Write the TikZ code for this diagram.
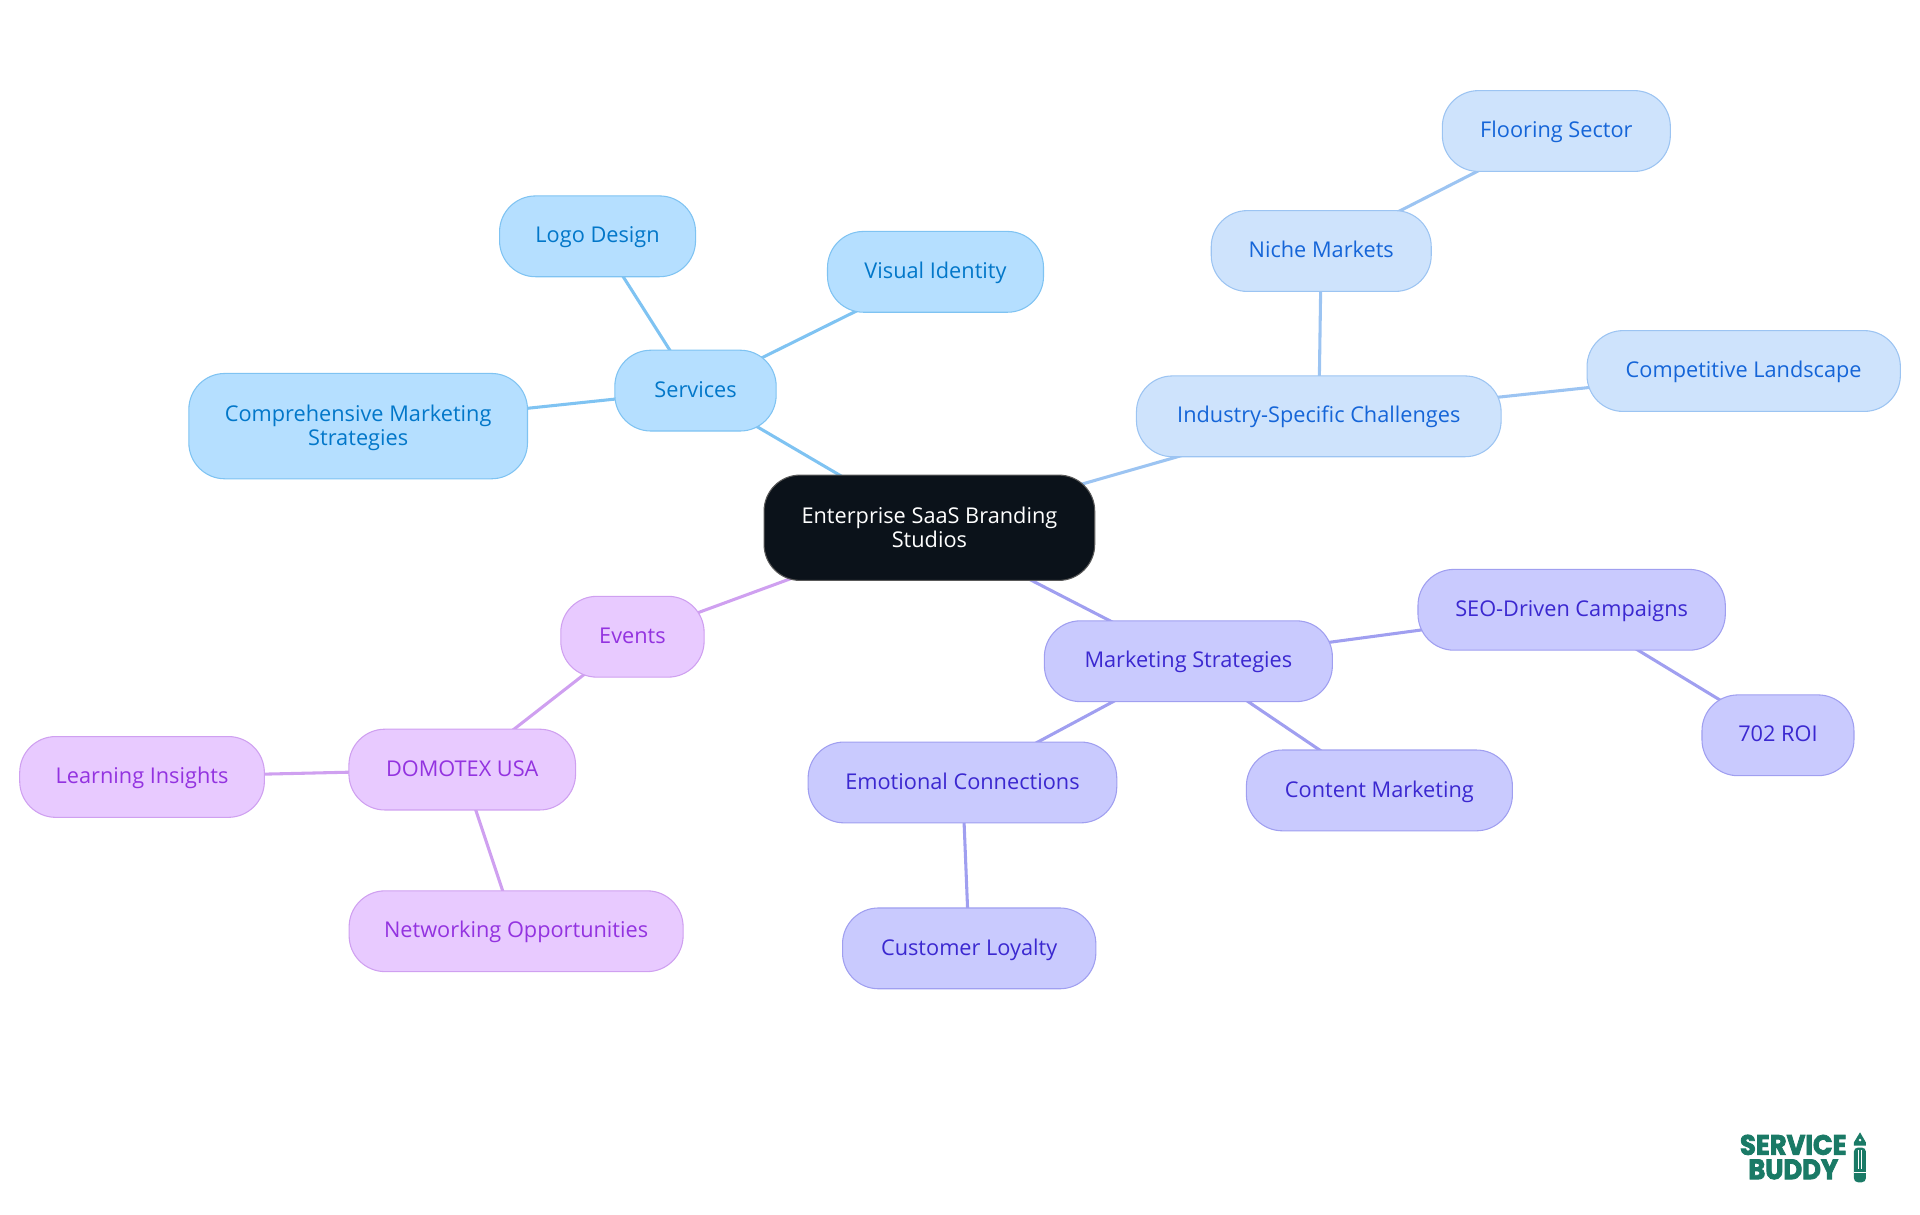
\documentclass[tikz,border=0pt]{standalone}
\usepackage{fontspec}
\usepackage{graphicx}
\setmainfont{Open Sans}
\newfontfamily\logofont[BoldFeatures={FakeBold=3}]{Poppins}
\usetikzlibrary{backgrounds}
\definecolor{rootfill}{HTML}{0B121A}
\definecolor{servfill}{HTML}{B5DFFF}
\definecolor{servline}{HTML}{7FC3F2}
\definecolor{servtext}{HTML}{0277C9}
\definecolor{indfill}{HTML}{CEE3FC}
\definecolor{indline}{HTML}{9CC4F2}
\definecolor{indtext}{HTML}{1565D8}
\definecolor{markfill}{HTML}{C9CAFE}
\definecolor{markline}{HTML}{A09FF0}
\definecolor{marktext}{HTML}{3B28D0}
\definecolor{evfill}{HTML}{E8CAFF}
\definecolor{evline}{HTML}{CFA0F0}
\definecolor{evtext}{HTML}{9333E0}
\definecolor{logogreen}{HTML}{1A7A66}
\tikzset{
	pill/.style={draw, rectangle, rounded corners=27pt, inner sep=0pt, line width=0.8pt, align=center, text height=12.4pt, text depth=2.4pt, font=\fontsize{16.3}{18}\selectfont},
	twolines/.style={text height=31pt, text depth=2pt},
	rootpill/.style={pill, fill=rootfill, draw=gray!70!black, text=white},
	servpill/.style={pill, fill=servfill, draw=servline, text=servtext},
	indpill/.style={pill, fill=indfill, draw=indline, text=indtext},
	markpill/.style={pill, fill=markfill, draw=markline, text=marktext},
	evpill/.style={pill, fill=evfill, draw=evline, text=evtext},
	link/.style={line width=2.3pt},
	logotext/.style={inner sep=0pt, text=logogreen, font=\logofont\bfseries\fontsize{21}{21}\selectfont},
}
\begin{document}
\begin{tikzpicture}[x=0.9184pt, y=-0.9184pt]
	\useasboundingbox (0,0) rectangle (1568,992.25);

	\node[rootpill, twolines, minimum width=248pt, minimum height=79pt] (Root) at (759,431) {Enterprise SaaS Branding\\Studios};

	\node[servpill, minimum width=121pt, minimum height=60.6pt] (Services) at (568,319) {Services};
	\node[servpill, minimum width=147pt, minimum height=60.6pt] (Logo) at (488,193) {Logo Design};
	\node[servpill, minimum width=162pt, minimum height=60.6pt] (Visual) at (764,222) {Visual Identity};
	\node[servpill, twolines, minimum width=254pt, minimum height=79pt] (Compre) at (292.5,348) {Comprehensive Marketing\\Strategies};

	\node[indpill, minimum width=273.5pt, minimum height=60.6pt] (Industry) at (1077,340) {Industry-Specific Challenges};
	\node[indpill, minimum width=165pt, minimum height=60.6pt] (Niche) at (1079,205) {Niche Markets};
	\node[indpill, minimum width=171pt, minimum height=60.6pt] (Flooring) at (1271,107) {Flooring Sector};
	\node[indpill, minimum width=235pt, minimum height=60.6pt] (Compet) at (1424,303) {Competitive Landscape};

	\node[markpill, minimum width=216pt, minimum height=60.6pt] (Marketing) at (970.5,540) {Marketing Strategies};
	\node[markpill, minimum width=230.5pt, minimum height=60.6pt] (SEO) at (1283.5,498) {SEO-Driven Campaigns};
	\node[markpill, minimum width=114pt, minimum height=60.6pt] (ROI) at (1452,600.5) {702 ROI};
	\node[markpill, minimum width=231.5pt, minimum height=60.6pt] (Emotional) at (786,639) {Emotional Connections};
	\node[markpill, minimum width=199.5pt, minimum height=60.6pt] (Content) at (1126.5,645.5) {Content Marketing};
	\node[markpill, minimum width=190pt, minimum height=60.6pt] (Loyalty) at (791.5,774.5) {Customer Loyalty};

	\node[evpill, minimum width=107.5pt, minimum height=60.6pt] (Events) at (516.5,520) {Events};
	\node[evpill, minimum width=170pt, minimum height=60.6pt] (Domotex) at (377.5,628.5) {DOMOTEX USA};
	\node[evpill, minimum width=183.5pt, minimum height=60.6pt] (Learning) at (116,634.5) {Learning Insights};
	\node[evpill, minimum width=250.5pt, minimum height=60.6pt] (Network) at (421.5,760.5) {Networking Opportunities};

	\begin{scope}[on background layer]
		\draw[link, servline] (Root.center) -- (Services.center);
		\draw[link, servline] (Services.center) -- (Logo.center);
		\draw[link, servline] (Services.center) -- (Visual.center);
		\draw[link, servline] (Services.center) -- (Compre.center);
		\draw[link, indline] (Root.center) -- (Industry.center);
		\draw[link, indline] (Industry.center) -- (Niche.center);
		\draw[link, indline] (Niche.center) -- (Flooring.center);
		\draw[link, indline] (Industry.center) -- (Compet.center);
		\draw[link, markline] (Root.center) -- (Marketing.center);
		\draw[link, markline] (Marketing.center) -- (SEO.center);
		\draw[link, markline] (SEO.center) -- (ROI.center);
		\draw[link, markline] (Marketing.center) -- (Emotional.center);
		\draw[link, markline] (Marketing.center) -- (Content.center);
		\draw[link, markline] (Emotional.center) -- (Loyalty.center);
		\draw[link, evline] (Root.center) -- (Events.center);
		\draw[link, evline] (Events.center) -- (Domotex.center);
		\draw[link, evline] (Domotex.center) -- (Learning.center);
		\draw[link, evline] (Domotex.center) -- (Network.center);
	\end{scope}

	\node[logotext] (Service) at (1464.5,935) {\scalebox{0.92}[1]{SERVICE}};
	\node[logotext] (Buddy) at (1464.5,955) {\scalebox{0.92}[1]{BUDDY}};
	\fill[logogreen] (1519,924.7) -- (1523.8,933) -- (1523.8,935.5) -- (1514,935.5) -- (1514,933) -- cycle;
	\fill[white] (1519,931) circle (1.2);
	\fill[logogreen, rounded corners=3pt] (1514,937.2) rectangle (1523.8,965.5);
	\draw[white, line width=0.6pt] (1517.5,939) -- (1517.5,955) (1520.3,939) -- (1520.3,955) (1514,957.5) -- (1523.8,957.5);
\end{tikzpicture}
\end{document}
